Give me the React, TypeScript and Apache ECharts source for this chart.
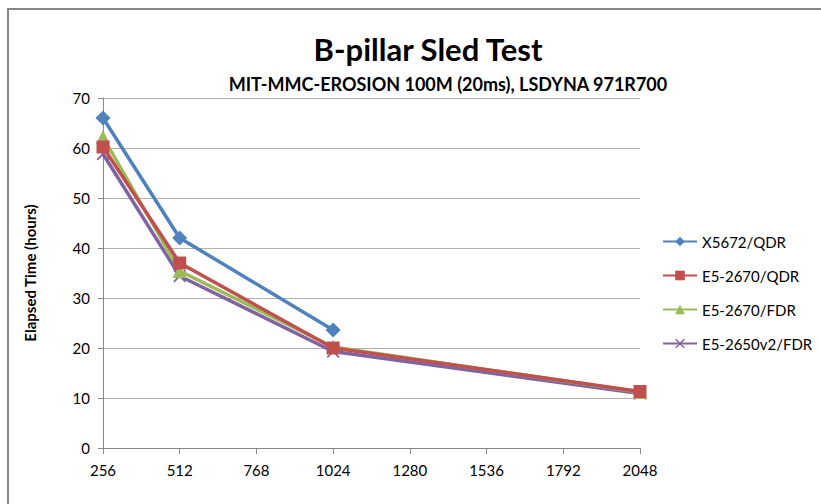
import React, { useEffect, useRef } from "react";
import * as echarts from "echarts";

const xTicks = [256, 512, 768, 1024, 1280, 1536, 1792, 2048];
const seriesNames = ["X5672/QDR", "E5-2670/QDR", "E5-2670/FDR", "E5-2650v2/FDR"];
const x5672Qdr: [number, number][] = [[256, 66], [512, 42], [1024, 23.6]];
const e52670Qdr: [number, number][] = [[256, 60.2], [512, 37], [1024, 20], [2048, 11.3]];
const e52670Fdr: [number, number][] = [[256, 62.2], [512, 35.4], [1024, 20.2], [2048, 11.2]];
const e52650v2Fdr: [number, number][] = [[256, 58.8], [512, 34.4], [1024, 19.3], [2048, 10.9]];

const colors = ["#4F81BD", "#C0504D", "#9BBB59", "#8064A2"];
const crossPath =
  "path://M0,1L1,0L5,4L9,0L10,1L6,5L10,9L9,10L5,6L1,10L0,9L4,5Z";

const FONT = "Lato, 'Liberation Sans', sans-serif";

export default function App() {
  const ref = useRef<HTMLDivElement>(null);
  useEffect(() => {
    const chart = echarts.init(ref.current!, null, { renderer: "svg" });
    const datas = [x5672Qdr, e52670Qdr, e52670Fdr, e52650v2Fdr];
    const symbols = ["diamond", "rect", "triangle", crossPath];
    const sizes = [15, 13, 14, 13];
    chart.setOption({
      animation: false,
      backgroundColor: "#ffffff",
      color: colors,
      title: [
        {
          text: "B-pillar Sled Test",
          left: 423,
          top: 28,
          textAlign: "center",
          textStyle: { fontFamily: FONT, fontSize: 31, fontWeight: "bold", color: "#000" },
        },
        {
          text: "MIT-MMC-EROSION 100M (20ms), LSDYNA 971R700",
          left: 443,
          top: 70,
          textAlign: "center",
          textStyle: { fontFamily: FONT, fontSize: 18, fontWeight: "bold", color: "#000" },
        },
      ],
      graphic: [
        {
          type: "rect",
          shape: { x: 8, y: 9, width: 830, height: 520 },
          style: { fill: "none", stroke: "#888888", lineWidth: 2 },
          silent: true,
        },
      ],
      legend: {
        orient: "vertical",
        left: 657,
        top: 229,
        itemWidth: 34,
        itemHeight: 12,
        itemGap: 19,
        data: seriesNames,
        textStyle: { fontFamily: FONT, fontSize: 15, color: "#000" },
      },
      grid: { left: 103, right: 181, top: 98, bottom: 56, containLabel: false },
      xAxis: {
        type: "value",
        min: 256,
        max: 2048,
        interval: 256,
        axisLine: { show: true, lineStyle: { color: "#888888", width: 1 } },
        axisTick: { show: true, length: 6, lineStyle: { color: "#888888" } },
        splitLine: { show: false },
        axisLabel: {
          fontFamily: FONT,
          fontSize: 15,
          color: "#000",
          margin: 14,
          formatter: (v: number) => (xTicks.includes(v) ? String(v) : ""),
        },
      },
      yAxis: {
        type: "value",
        min: 0,
        max: 70,
        interval: 10,
        name: "Elapsed Time (hours)",
        nameLocation: "middle",
        nameGap: 66,
        nameTextStyle: { fontFamily: FONT, fontSize: 15, fontWeight: "bold", color: "#000" },
        axisLine: { show: true, lineStyle: { color: "#888888", width: 1 } },
        axisTick: { show: true, length: 5, inside: false, lineStyle: { color: "#888888" } },
        splitLine: { show: true, lineStyle: { color: "#B0B0B0", width: 1 } },
        axisLabel: { fontFamily: FONT, fontSize: 15, color: "#000", margin: 13 },
      },
      series: seriesNames.map((name, i) => ({
        name,
        type: "line",
        data: datas[i],
        symbol: symbols[i],
        symbolSize: sizes[i],
        showAllSymbol: true,
        lineStyle: { width: 3.5, color: colors[i] },
        itemStyle: { color: colors[i] },
        z: 10 - i,
      })),
    });
    return () => chart.dispose();
  }, []);
  return (
    <div
      ref={ref}
      style={{ position: "absolute", left: 0, top: 0, width: 821, height: 504 }}
    />
  );
}
